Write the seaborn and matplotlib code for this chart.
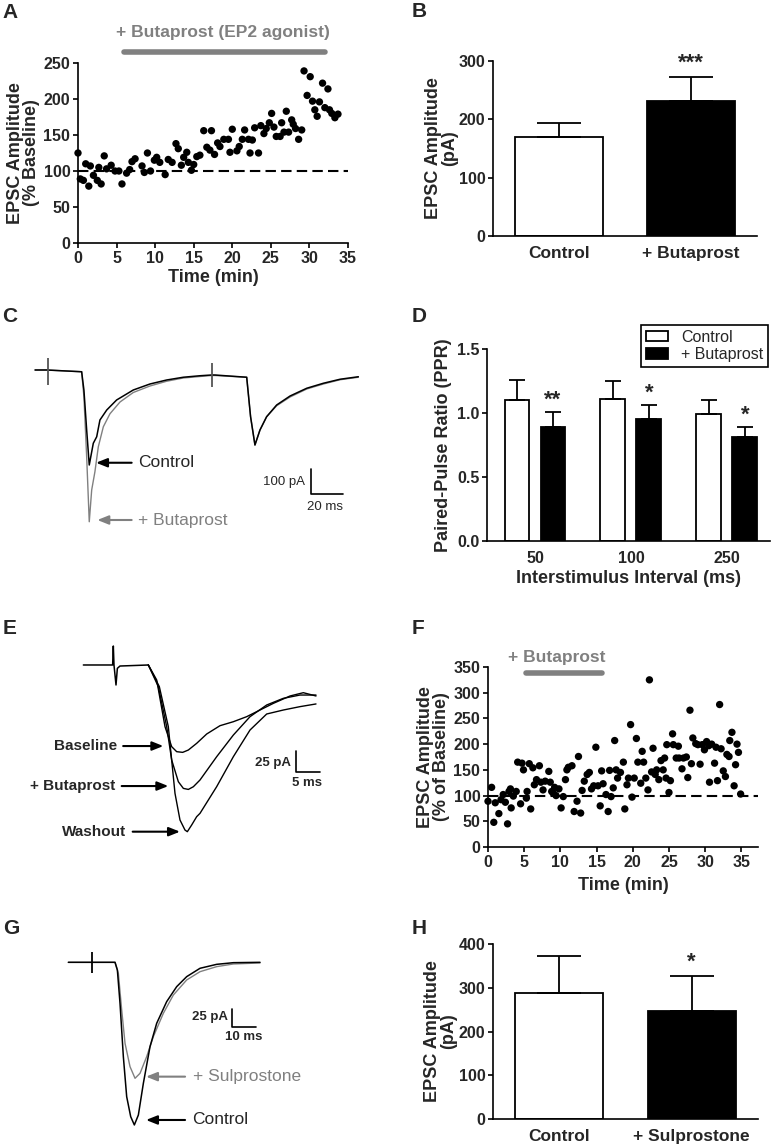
import numpy as np
import pandas as pd
import seaborn as sns
import matplotlib.pyplot as plt

sns.set_theme(style='ticks')
plt.rcParams['font.family'] = ['Liberation Sans', 'DejaVu Sans']
plt.rcParams['font.weight'] = 'bold'
plt.rcParams['axes.labelweight'] = 'bold'

GRAY = '#808080'

# ---- panel A: butaprost time course
a_time = [0, 0.3, 0.7, 1.0, 1.4, 1.6, 2.0, 2.5, 2.7, 3.0, 3.4, 3.7, 4.3, 4.8, 5.3, 5.7, 6.3, 6.7, 7.0, 7.4,
          8.3, 8.6, 9.0, 9.4, 9.9, 10.2, 10.6, 11.3, 11.7, 12.2, 12.7, 13.0, 13.4, 13.7, 14.1, 14.3, 14.7, 15.0,
          15.4, 15.8, 16.3, 16.7, 17.1, 17.3, 17.7, 18.1, 18.4, 18.9, 19.5, 19.7, 20.0, 20.6, 20.9, 21.3, 21.6,
          22.1, 22.3, 22.6, 22.9, 23.4, 23.7, 24.1, 24.4, 24.8, 25.1, 25.4, 25.7, 26.2, 26.4, 26.7, 27.0, 27.3,
          27.7, 27.9, 28.2, 28.6, 29.0, 29.3, 29.7, 30.1, 30.4, 30.7, 31.0, 31.3, 31.7, 32.0, 32.4, 32.6, 32.9,
          33.3, 33.7]
a_amp = [125, 89, 87, 110, 79, 107, 94, 87, 105, 82, 121, 103, 108, 100, 100, 82, 97, 102, 113, 117,
         107, 98, 125, 100, 115, 119, 112, 95, 116, 112, 138, 131, 108, 119, 126, 112, 101, 109,
         120, 122, 156, 133, 129, 156, 123, 139, 134, 144, 144, 126, 158, 128, 134, 144, 157,
         144, 125, 143, 160, 125, 163, 152, 159, 167, 180, 161, 148, 148, 167, 154, 183, 154,
         171, 165, 159, 144, 157, 239, 205, 231, 197, 185, 176, 196, 222, 188, 214, 185, 180,
         174, 179]

# ---- panel B
b_groups = ['Control', '+ Butaprost']
b_mean = [169, 231]
b_sem = [24, 42]

# ---- panel C traces (ms, pA)
c_t_ctrl = [-8.2, -1, 20.6, 22.0, 23.7, 25.3, 27.8, 29.9, 31.9, 36.1, 42.2, 52.5, 62.8, 73.1, 83.4, 93.7,
            100.9, 103.0, 122.6, 125.0, 127.7, 130.8, 134.9, 141.1, 149.4, 159.7, 170.0, 180.3, 191.6]
c_i_ctrl = [0, 0, -7, -80, -240, -380, -293, -267, -200, -160, -120, -80, -56, -40, -29, -23,
            -20, -20, -29, -187, -300, -240, -187, -140, -104, -73, -53, -37, -27]
c_t_buta = [-8.2, -1, 20.6, 22.0, 23.7, 25.3, 26.8, 28.8, 30.9, 34.0, 38.1, 44.3, 52.5, 62.8, 73.1, 83.4,
            93.7, 100.9, 103.0, 122.6, 125.0, 127.7, 130.8, 134.9, 141.1, 149.4, 159.7, 170.0, 180.3, 191.6]
c_i_buta = [0, 0, -7, -107, -347, -607, -480, -407, -307, -227, -175, -128, -90, -64, -45, -32,
            -26, -22, -22, -29, -187, -300, -240, -187, -143, -108, -76, -56, -39, -29]
c_stim_t = [0, 100.9]
c_stim_top = [47, 27]
c_stim_bot = [-60, -67]

# ---- panel D
d_intervals = ['50', '100', '250']
d_ctrl = [1.10, 1.11, 0.99]
d_ctrl_sem = [0.16, 0.14, 0.11]
d_buta = [0.89, 0.95, 0.815]
d_buta_sem = [0.12, 0.115, 0.075]
d_stars = ['**', '*', '*']

# ---- panel E traces (ms, pA)
e_t_pre = [-6.59, -0.49, -0.35, -0.21, 0.21, 0.49, 1.04, 6.94]
e_i_pre = [0, 0, 21.9, 0, -23.1, -3.9, -1.2, 0]
e_t_base = [6.94, 8.68, 10.41, 11.80, 12.84, 14.09, 15.27, 17.00, 19.09, 21.86, 24.64, 27.41, 30.19,
            32.97, 36.44, 39.21, 41.85]
e_i_base = [0, -17.3, -71.2, -94.3, -100.1, -100.9, -98.2, -90.5, -79.7, -70.1, -65.5, -59.7, -52.0,
            -44.3, -35.8, -32.0, -35.8]
e_t_buta = [6.94, 9.02, 10.76, 11.80, 13.19, 14.23, 15.27, 16.31, 17.70, 21.17, 24.64, 28.11, 31.58,
            35.05, 38.52, 41.85]
e_i_buta = [0, -25.0, -71.2, -109.7, -134.8, -142.5, -143.7, -140.6, -132.8, -105.9, -80.9, -59.7, -46.2,
            -38.5, -34.7, -34.7]
e_t_wash = [6.94, 9.23, 11.10, 12.49, 13.53, 14.57, 15.06, 15.96, 17.00, 17.70, 21.17, 24.64, 28.11,
            31.58, 35.05, 38.52, 41.85]
e_i_wash = [0, -25.0, -71.2, -148.2, -179.0, -190.6, -192.5, -184.8, -175.2, -171.3, -140.5, -105.9,
            -75.1, -56.6, -52.0, -48.1, -45.0]

# ---- panel F
f_time = [0, 0.5, 0.8, 1.0, 1.5, 1.8, 2.1, 2.4, 2.7, 2.9, 3.1, 3.2, 3.5, 3.9, 4.1, 4.5, 4.7, 4.9, 5.3, 5.4,
          5.7, 5.9, 6.2, 6.4, 6.7, 7.1, 7.3, 7.6, 7.9, 8.4, 8.6, 8.8, 9.0, 9.2, 9.4, 9.8, 10.1, 10.4, 10.7, 10.9,
          11.1, 11.6, 11.9, 12.3, 12.5, 12.8, 13.0, 13.3, 13.7, 14.0, 14.3, 14.6, 14.9, 15.2, 15.5, 15.7, 15.9,
          16.3, 16.6, 16.8, 17.0, 17.3, 17.5, 17.7, 17.9, 18.3, 18.7, 18.9, 19.2, 19.4, 19.7, 19.9, 20.2, 20.5,
          20.7, 21.1, 21.3, 21.5, 21.8, 22.1, 22.3, 22.6, 22.8, 23.1, 23.3, 23.6, 23.9, 24.2, 24.4, 24.6, 24.7,
          25.0, 25.2, 25.5, 25.6, 26.0, 26.3, 26.4, 26.8, 27.0, 27.4, 27.6, 27.9, 28.1, 28.3, 28.7, 29.0, 29.3,
          29.6, 29.9, 30.2, 30.5, 30.6, 30.9, 31.3, 31.5, 31.7, 32.0, 32.2, 32.5, 32.8, 33.0, 33.3, 33.4, 33.7,
          34.0, 34.2, 34.4, 34.6, 34.9]
f_amp = [89, 116, 48, 86, 65, 92, 102, 87, 45, 108, 113, 76, 99, 108, 165, 84, 163, 150, 95, 108,
         162, 74, 154, 121, 131, 158, 126, 111, 128, 147, 126, 108, 105, 116, 100, 113, 76, 98, 131, 150,
         155, 158, 69, 89, 176, 66, 110, 128, 141, 145, 113, 119, 194, 119, 80, 148, 123, 102, 69, 149,
         98, 115, 207, 150, 134, 145, 165, 74, 121, 134, 238, 97, 134, 211, 165, 124, 186, 165, 134, 111,
         325, 146, 192, 141, 150, 131, 168, 150, 173, 134, 199, 106, 129, 220, 199, 173, 196, 173, 152, 173,
         175, 135, 266, 162, 212, 201, 199, 161, 199, 189, 205, 197, 126, 200, 163, 194, 129, 277, 191, 148,
         137, 180, 176, 207, 223, 119, 160, 200, 184, 103]

# ---- panel G traces (ms, pA)
g_t_ctrl = [-9.86, 9.32, 10.28, 11.37, 12.74, 14.11, 15.76, 17.26, 18.91, 20.96, 23.70, 26.44, 30.55,
            34.66, 38.77, 44.25, 51.10, 57.95, 68.91]
g_i_ctrl = [0, 0, -10.6, -57.0, -131.0, -186.6, -214.4, -225.9, -212.1, -168.1, -117.1, -84.7, -54.6,
            -33.8, -19.9, -8.3, -2.8, -0.5, 0]
g_t_sulp = [-9.86, 9.32, 10.69, 12.06, 13.43, 15.48, 17.54, 19.59, 22.33, 25.07, 29.18, 33.29, 38.77,
            44.25, 51.10, 57.95, 68.91]
g_i_sulp = [0, 0, -15.3, -66.2, -112.5, -144.9, -161.1, -154.2, -131.0, -103.2, -70.8, -45.4, -24.5,
            -13.0, -6.0, -2.3, -0.9]

# ---- panel H
h_groups = ['Control', '+ Sulprostone']
h_mean = [289, 248]
h_sem = [84, 79]

TICK = 11.5
LABEL = 13

W, H = 777, 1145
fig = plt.figure(figsize=(W / 100, H / 100), dpi=100)


def box(x0, y0, x1, y1):
    return fig.add_axes([x0 / W, 1 - y1 / H, (x1 - x0) / W, (y1 - y0) / H])


def style(ax):
    sns.despine(ax=ax)
    for s in ('left', 'bottom'):
        ax.spines[s].set_linewidth(1.2)
        ax.spines[s].set_color('black')
    ax.tick_params(width=1.2, length=3.5, labelsize=TICK, color='black', pad=2)


def bar_panel(ax, groups, mean, sem, stars):
    sns.barplot(x=groups, y=mean, hue=groups, palette=['white', 'black'], edgecolor='black',
                linewidth=1.3, width=0.667, legend=False, ax=ax)
    ax.errorbar(range(len(groups)), mean, yerr=[[0] * len(sem), sem], fmt='none', ecolor='black',
                elinewidth=1.3, capsize=16, capthick=1.3, zorder=1)
    for i, s in enumerate(stars):
        if s:
            ax.annotate(s, xy=(i, mean[i] + sem[i]), xytext=(0, 2), textcoords='offset points',
                        ha='center', va='bottom', fontsize=16)
    ax.set_xlim(-0.5, 1.5)
    style(ax)
    ax.tick_params(axis='x', length=0, labelsize=12.5, pad=7)


def arrow(ax, head, tail, color):
    ax.annotate('', xy=head, xytext=tail,
                arrowprops=dict(arrowstyle='-|>,head_length=0.55,head_width=0.22', color=color,
                                lw=1.5, shrinkA=0, shrinkB=0))


# A
ax = box(78, 63, 348, 243)
sns.scatterplot(x=a_time, y=a_amp, color='black', s=28, edgecolor='none', ax=ax, clip_on=False)
ax.plot([0, 35], [100, 100], color='black', lw=1.5, dashes=(5, 2.5))
ax.set_xlim(0, 35)
ax.set_ylim(0, 250)
ax.set_xticks(range(0, 36, 5))
ax.set_yticks(range(0, 251, 50))
style(ax)
ax.set_xlabel('Time (min)', fontsize=LABEL)
ax.set_ylabel('EPSC Amplitude\n(% Baseline)', fontsize=LABEL, linespacing=0.9)
ax.xaxis.set_label_coords(0.5, -0.145)
ax.yaxis.set_label_coords(-0.142, 0.5)
ax.plot([6, 32], [265, 265], color=GRAY, lw=4, solid_capstyle='round', clip_on=False)
ax.text(18.8, 292, '+ Butaprost (EP2 agonist)', ha='center', va='center', color=GRAY, fontsize=12.5)

# B
ax = box(493, 61, 757, 236)
bar_panel(ax, b_groups, b_mean, b_sem, ['', '***'])
ax.set_ylim(0, 300)
ax.set_yticks(range(0, 301, 100))
ax.set_ylabel('EPSC Amplitude\n(pA)', fontsize=LABEL, linespacing=0.9)
ax.yaxis.set_label_coords(-0.133, 0.5)

# C
ax = box(20, 330, 370, 540)
ax.set_xlim(-17.5, 198.8)
ax.set_ylim(-680, 160)
ax.axis('off')
ax.plot(c_t_buta, c_i_buta, color=GRAY, lw=1.0)
ax.plot(c_t_ctrl, c_i_ctrl, color='black', lw=1.1)
ax.vlines(c_stim_t, c_stim_bot, c_stim_top, color='#555555', lw=1.3)
ax.plot([162.3, 162.3, 182.3], [-396, -496, -496], color='black', lw=1.2)
ax.text(158.6, -450, '100 pA', ha='right', va='center', fontsize=9.5, fontweight='normal')
ax.text(171, -547, '20 ms', ha='center', va='center', fontsize=9.5, fontweight='normal')
arrow(ax, (29.5, -371), (51.5, -371), 'black')
ax.text(55.6, -371, 'Control', ha='left', va='center', fontsize=12.5, fontweight='normal')
arrow(ax, (30.3, -600), (51.5, -600), GRAY)
ax.text(55.6, -600, '+ Butaprost', ha='left', va='center', fontsize=12.5, fontweight='normal', color=GRAY)

# D
ax = box(487, 349, 770, 541)
d_df = pd.DataFrame({
    'interval': d_intervals * 2,
    'condition': ['Control'] * 3 + ['+ Butaprost'] * 3,
    'ppr': d_ctrl + d_buta,
})
sns.barplot(data=d_df, x='interval', y='ppr', hue='condition', order=d_intervals,
            palette=['white', 'black'], edgecolor='black', linewidth=1.3, width=0.75, gap=0.31, ax=ax)
for cont, mean, sem in zip(ax.containers, [d_ctrl, d_buta], [d_ctrl_sem, d_buta_sem]):
    xs = [r.get_x() + r.get_width() / 2 for r in cont]
    ax.errorbar(xs, mean, yerr=[[0] * 3, sem], fmt='none', ecolor='black', elinewidth=1.3,
                capsize=6, capthick=1.3, zorder=1)
    if mean is d_buta:
        for x, m, s, st in zip(xs, mean, sem, d_stars):
            ax.annotate(st, xy=(x, m + s), xytext=(0, 1), textcoords='offset points',
                        ha='center', va='bottom', fontsize=16)
ax.set_xlim(-0.5, 2.45)
ax.set_ylim(0, 1.5)
ax.set_yticks([0, 0.5, 1.0, 1.5])
ax.set_yticklabels(['0.0', '0.5', '1.0', '1.5'])
style(ax)
ax.tick_params(axis='x', length=0, pad=7)
ax.set_xlabel('Interstimulus Interval (ms)', fontsize=LABEL)
ax.set_ylabel('Paired-Pulse Ratio (PPR)', fontsize=LABEL)
ax.xaxis.set_label_coords(0.5, -0.15)
ax.yaxis.set_label_coords(-0.124, 0.5)
leg = ax.legend(loc='upper right', bbox_to_anchor=(0.993, 1.125), frameon=True, fancybox=False,
                edgecolor='black', framealpha=1, fontsize=11.5, handlelength=1.4, handleheight=0.6,
                borderpad=0.3, labelspacing=0.15, handletextpad=0.8, borderaxespad=0)
leg.get_frame().set_linewidth(1.2)
for t in leg.get_texts():
    t.set_fontweight('normal')

# E
ax = box(10, 630, 370, 860)
ax.set_xlim(-21.86, 53.09)
ax.set_ylim(-225.2, 40.4)
ax.axis('off')
ax.plot(e_t_pre, e_i_pre, color='black', lw=1.1)
ax.plot(e_t_base, e_i_base, color='black', lw=1.0)
ax.plot(e_t_buta, e_i_buta, color='black', lw=1.0)
ax.plot(e_t_wash, e_i_wash, color='black', lw=1.0)
ax.plot([37.68, 37.68, 42.68], [-98.9, -123.9, -123.9], color='black', lw=1.2)
ax.text(36.6, -113.6, '25 pA', ha='right', va='center', fontsize=9.5)
ax.text(39.9, -136.7, '5 ms', ha='center', va='center', fontsize=9.5)
arrow(ax, (10.06, -93.6), (1.7, -93.6), 'black')
ax.text(0.35, -93.6, 'Baseline', ha='right', va='center', fontsize=11)
arrow(ax, (11.1, -139.8), (1.39, -139.8), 'black')
ax.text(0, -139.8, '+ Butaprost', ha='right', va='center', fontsize=11)
arrow(ax, (13.53, -192.5), (3.68, -192.5), 'black')
ax.text(2.29, -192.5, 'Washout', ha='right', va='center', fontsize=11)

# F
ax = box(488, 667, 758, 847)
sns.scatterplot(x=f_time, y=f_amp, color='black', s=28, edgecolor='none', ax=ax, clip_on=False)
ax.plot([0, 37.3], [100, 100], color='black', lw=1.5, dashes=(5, 2.5))
ax.set_xlim(0, 37.3)
ax.set_ylim(0, 350)
ax.set_xticks(range(0, 36, 5))
ax.set_yticks(range(0, 351, 50))
style(ax)
ax.set_xlabel('Time (min)', fontsize=LABEL)
ax.set_ylabel('EPSC Amplitude\n(% of Baseline)', fontsize=LABEL, linespacing=0.9)
ax.xaxis.set_label_coords(0.5, -0.165)
ax.yaxis.set_label_coords(-0.141, 0.5)
ax.plot([5.3, 15.8], [338, 338], color=GRAY, lw=4, solid_capstyle='round', clip_on=False)
ax.text(9.5, 368, '+ Butaprost', ha='center', va='center', color=GRAY, fontsize=12.5, clip_on=False)

# G
ax = box(10, 940, 370, 1140)
ax.set_xlim(-33.84, 114.1)
ax.set_ylim(-246.8, 31.0)
ax.axis('off')
ax.plot(g_t_sulp, g_i_sulp, color=GRAY, lw=1.0)
ax.plot(g_t_ctrl, g_i_ctrl, color='black', lw=1.1)
ax.vlines([0], [-15.3], [14.8], color='black', lw=1.3)
ax.plot([57.27, 57.27, 67.27], [-65.3, -90.3, -90.3], color='black', lw=1.2)
ax.text(55.9, -75.5, '25 pA', ha='right', va='center', fontsize=9.5)
ax.text(62.1, -103.2, '10 ms', ha='center', va='center', fontsize=9.5)
arrow(ax, (22.06, -158.8), (38.1, -158.8), GRAY)
ax.text(41.2, -158.8, '+ Sulprostone', ha='left', va='center', fontsize=12.5, fontweight='normal', color=GRAY)
arrow(ax, (22.06, -219), (38.1, -219), 'black')
ax.text(41.2, -219, 'Control', ha='left', va='center', fontsize=12.5, fontweight='normal')

# H
ax = box(493, 944, 758, 1119)
bar_panel(ax, h_groups, h_mean, h_sem, ['', '*'])
ax.set_ylim(0, 400)
ax.set_yticks(range(0, 401, 100))
ax.set_ylabel('EPSC Amplitude\n(pA)', fontsize=LABEL, linespacing=0.9)
ax.yaxis.set_label_coords(-0.136, 0.5)

# panel letters
for lab, x, y in [('A', 2, 3), ('B', 412, 2), ('C', 2, 307), ('D', 412, 307),
                  ('E', 3, 619), ('F', 412, 619), ('G', 3, 919), ('H', 412, 919)]:
    fig.text(x / W, 1 - y / H, lab, ha='left', va='top', fontsize=15, fontweight='bold')

fig.savefig('out.png', dpi=100)
